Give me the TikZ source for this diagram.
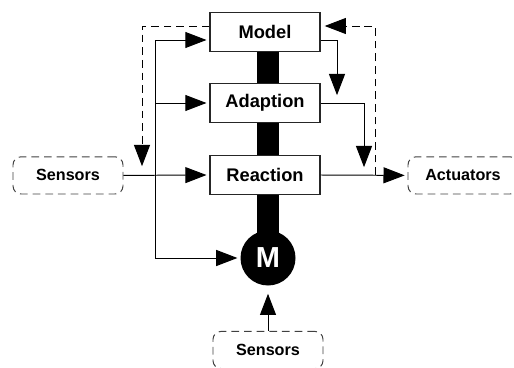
\documentclass[tikz,border=0pt]{standalone}
\usepackage{fontspec}
\setmainfont{Liberation Sans}
\usetikzlibrary{arrows.meta,backgrounds}

\begin{document}
\begin{tikzpicture}[
  block/.style={rectangle, draw=black!85, line width=1pt, fill=white, minimum width=2.75cm, minimum height=0.98cm, font=\fontsize{13}{14}\selectfont\bfseries},
  ext/.style={rectangle, draw=black!75, dash pattern=on 5.5pt off 3.5pt, line width=0.7pt, rounded corners=0.2cm, minimum width=2.75cm, minimum height=0.93cm, font=\fontsize{11.5}{13}\selectfont\bfseries},
  motor/.style={circle, fill=black, minimum size=1.375cm, inner sep=0pt, text=white, font=\fontsize{20.6}{22}\selectfont\bfseries},
  arrow/.style={-{Triangle[length=0.53cm, width=0.4cm]}, line width=0.7pt, shorten >=2pt},
  dasharrow/.style={arrow, dash pattern=on 5.5pt off 3.5pt}
]
  \useasboundingbox (0,0) rectangle (12.85,9.175);

  \node[block] (mod) at (6.625, 8.375) {Model};
  \node[block] (ada) at (6.625, 6.6) {Adaption};
  \node[block] (rea) at (6.625, 4.8) {Reaction};
  \node[motor] (mot) at (6.7, 2.725) {M};

  \node[ext] (sl) at (1.7, 4.79) {Sensors};
  \node[ext] (act) at (11.575, 4.79) {Actuators};
  \node[ext] (sb) at (6.7, 0.425) {Sensors};

  % shaft behind the layers
  \begin{scope}[on background layer]
    \draw[line width=0.55cm] (mot.center |- mod.center) -- (mot.center);
  \end{scope}

  \coordinate (split) at (3.875, 4.8);
  \coordinate (dl) at (3.55, 4.95);
  \coordinate (dr) at (9.375, 4.8);
  \coordinate (mt) at (8.425, 6.725);
  \coordinate (at) at (9.1, 4.925);

  % Sensors -> layers
  \draw[arrow] (sl.east) -- (rea.west);
  \draw[arrow] (split) |- ([yshift=-0.2cm]mod.west);
  \draw[arrow] (split) |- (ada.west);
  \draw[arrow] (split) |- (mot.west);
  \draw[arrow, shorten >=0.2cm] (sb.north) -- (mot.south);

  % Model -> Adaption -> Reaction
  \draw[arrow] ([yshift=-0.2cm]mod.east) -| (mt);
  \draw[arrow] (ada.east) -| (at);
  \draw[arrow] (rea.east) -- (act.west);

  % dashed feedback
  \draw[dasharrow] ([yshift=0.15cm]mod.west) -| (dl);
  \draw[dasharrow, shorten >=0.1cm] (dr) |- ([yshift=0.15cm]mod.east);
\end{tikzpicture}
\end{document}
